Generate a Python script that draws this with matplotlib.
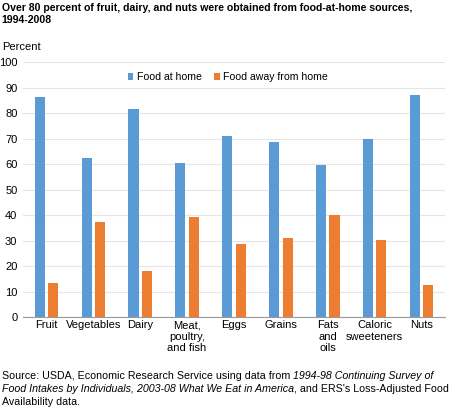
import matplotlib
matplotlib.use("Agg")
import matplotlib.pyplot as plt
import numpy as np

plt.rcParams['font.family'] = ['Liberation Sans', 'DejaVu Sans']

# Data
categories = ["Fruit", "Vegetables", "Dairy", "Meat,\npoultry,\nand fish", "Eggs",
              "Grains", "Fats\nand\noils", "Caloric\nsweeteners", "Nuts"]
at_home = [86.4, 62.4, 81.6, 60.5, 71.1, 68.9, 59.7, 69.8, 87.3]
away_from_home = [13.6, 37.6, 18.4, 39.5, 28.9, 31.1, 40.3, 30.2, 12.7]
yticks = [0, 10, 20, 30, 40, 50, 60, 70, 80, 90, 100]

BLUE = '#5B9BD5'
ORANGE = '#ED7D31'

fig = plt.figure(figsize=(4.5, 4.08), dpi=100)
ax = fig.add_axes([0.051, 0.222, 0.938, 0.625])

x = np.arange(len(categories))
w = 0.215
gap = 0.035
ax.bar(x - w / 2 - gap, at_home, w, color=BLUE, label="Food at home", zorder=3)
ax.bar(x + w / 2 + gap, away_from_home, w, color=ORANGE, label="Food away from home", zorder=3)

ax.set_xlim(-0.5, len(categories) - 0.5)
ax.set_ylim(0, 100)
ax.set_yticks(yticks)
ax.set_xticks(x)
ax.set_xticklabels(categories, fontsize=8, linespacing=1.2)
ax.tick_params(axis='y', labelsize=8, length=0, pad=4)
ax.tick_params(axis='x', length=0, pad=2)
ax.grid(axis='y', color='#e6e6e6', linewidth=0.8, zorder=0)
for s in ['top', 'right', 'left']:
    ax.spines[s].set_visible(False)
ax.spines['bottom'].set_color('#999999')
ax.spines['bottom'].set_linewidth(0.8)
ax.spines['bottom'].set_zorder(4)

ax.legend(loc='upper center', bbox_to_anchor=(0.485, 1.0), ncol=2, frameon=False,
          fontsize=7.6, handlelength=0.55, handleheight=0.6, handletextpad=0.3,
          columnspacing=1.2)

fig.text(0.004, 0.993, "Over 80 percent of fruit, dairy, and nuts were obtained from food-at-home sources,\n1994-2008",
         fontsize=7.6, fontweight='bold', va='top', ha='left', linespacing=1.3)
fig.text(0.004, 0.878, "Percent", fontsize=8, va='baseline', ha='left')

# source note with italic parts, built line by line
lines = [
    [("Source: USDA, Economic Research Service using data from ", 'normal'),
     ("1994-98 Continuing Survey of", 'italic')],
    [("Food Intakes by Individuals, 2003-08 What We Eat in America", 'italic'),
     (", and ERS's Loss-Adjusted Food", 'normal')],
    [("Availability data.", 'normal')],
]
renderer = fig.canvas.get_renderer()
y0 = 0.072
for i, parts in enumerate(lines):
    xpos = 0.004
    for txt, style in parts:
        t = fig.text(xpos, y0 - i * 0.032, txt, fontsize=7.7, style=style,
                     va='baseline', ha='left')
        bb = t.get_window_extent(renderer=renderer)
        xpos += bb.width / fig.bbox.width

fig.savefig("out.png", dpi=100)
